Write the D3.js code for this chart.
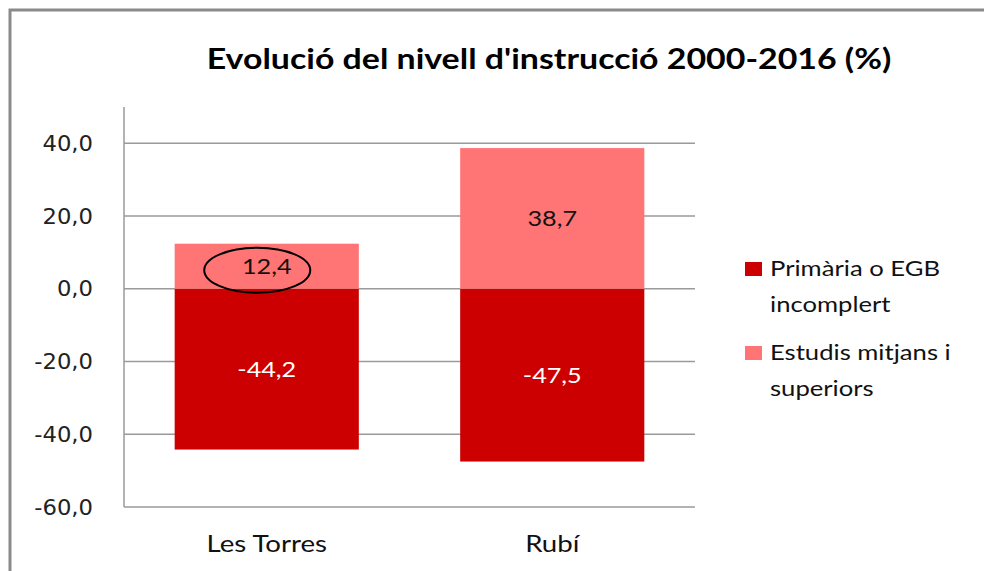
<!DOCTYPE html>
<html>
<head>
<meta charset="utf-8">
<script src="https://cdn.jsdelivr.net/npm/d3@7"></script>
<style>
  html, body { margin: 0; padding: 0; background: #fff; }
  svg { display: block; }
</style>
</head>
<body>
<svg id="chart" width="984" height="571"></svg>
<script>
// ---- data ----
const categories = ["Les Torres", "Rubí"];
const seriesNames = [["Primària o EGB", "incomplert"], ["Estudis mitjans i", "superiors"]];
const primaria = [-44.2, -47.5];
const estudis = [12.4, 38.7];
const yTicks = [-60, -40, -20, 0, 20, 40];
const titleText = "Evolució del nivell d'instrucció 2000-2016 (%)";
const seriesColors = ["#CC0000", "#FF7575"];
const highlightIndex = 0; // circled label (Les Torres, estudis)

// ---- setup ----
const svg = d3.select("#chart");
const W = 984, H = 571;
const plot = { left: 124, right: 695, top: 107, bottom: 507 };
const STRETCH = 1.2; // horizontal stretch of the reference text
const fmt = v => d3.format(".1f")(v).replace(".", ",").replace("\u2212", "-");

function stretch(sel, k) {
  sel.each(function () {
    const len = this.getComputedTextLength();
    d3.select(this).attr("textLength", len * (k || STRETCH)).attr("lengthAdjust", "spacingAndGlyphs");
  });
}

const y = d3.scaleLinear().domain([-60, 50]).range([plot.bottom, plot.top]);
const x = d3.scaleBand().domain(categories).range([plot.left, plot.right])
  .paddingInner(0.355).paddingOuter(0.1775);

// outer frame (left and top edges)
svg.append("path")
  .attr("d", `M10,${H} L10,10 L${W},10`)
  .attr("fill", "none").attr("stroke", "#8a8a8a").attr("stroke-width", 3);

// title
svg.append("text")
  .attr("x", 549).attr("y", 69)
  .attr("text-anchor", "middle")
  .attr("font-family", "Lato, 'Open Sans', sans-serif")
  .attr("font-weight", "bold").attr("font-size", 28)
  .attr("fill", "#000")
  .text(titleText)
  .call(stretch, 1.21);

// gridlines
svg.append("g").selectAll("line").data(yTicks).join("line")
  .attr("x1", plot.left).attr("x2", plot.right)
  .attr("y1", d => y(d)).attr("y2", d => y(d))
  .attr("stroke", "#9a9a9a").attr("stroke-width", 1.5);

// y axis line
svg.append("line")
  .attr("x1", plot.left).attr("x2", plot.left)
  .attr("y1", plot.top).attr("y2", plot.bottom)
  .attr("stroke", "#9a9a9a").attr("stroke-width", 1.5);

// y tick labels
svg.append("g").selectAll("text").data(yTicks).join("text")
  .attr("x", 93).attr("y", d => y(d))
  .attr("dy", "0.36em")
  .attr("text-anchor", "end")
  .attr("font-family", "'DejaVu Sans', sans-serif")
  .attr("font-size", 21)
  .attr("fill", "#222")
  .text(d => fmt(d))
  .call(stretch, 1.08);

// bars
const series = [primaria, estudis];
series.forEach((vals, si) => {
  svg.append("g").selectAll("rect").data(vals).join("rect")
    .attr("x", (d, i) => x(categories[i]))
    .attr("width", x.bandwidth())
    .attr("y", d => y(Math.max(0, d)))
    .attr("height", d => Math.abs(y(d) - y(0)))
    .attr("fill", seriesColors[si]);
});

// data labels
series.forEach((vals, si) => {
  svg.append("g").selectAll("text").data(vals).join("text")
    .attr("x", (d, i) => x(categories[i]) + x.bandwidth() / 2)
    .attr("y", d => (y(d) + y(0)) / 2)
    .attr("dy", "0.36em")
    .attr("text-anchor", "middle")
    .attr("font-family", "Lato, 'Open Sans', sans-serif")
    .attr("font-size", 21)
    .attr("fill", si === 0 ? "#fff" : "#111")
    .text(d => fmt(d))
    .call(stretch);
});

// annotation ellipse around the highlighted label
svg.append("ellipse")
  .attr("cx", x(categories[highlightIndex]) + x.bandwidth() / 2 - 9.5)
  .attr("cy", (y(estudis[highlightIndex]) + y(0)) / 2 + 4)
  .attr("rx", 53).attr("ry", 22.5)
  .attr("fill", "none").attr("stroke", "#000").attr("stroke-width", 2);

// category labels
svg.append("g").selectAll("text").data(categories).join("text")
  .attr("x", d => x(d) + x.bandwidth() / 2)
  .attr("y", 552)
  .attr("text-anchor", "middle")
  .attr("font-family", "Lato, 'Open Sans', sans-serif")
  .attr("font-size", 23)
  .attr("fill", "#111")
  .text(d => d)
  .call(stretch);

// legend
const legend = svg.append("g");
const legendTops = [262, 346];
seriesNames.forEach((lines, si) => {
  const g = legend.append("g");
  g.append("rect")
    .attr("x", 745).attr("y", legendTops[si])
    .attr("width", 17).attr("height", 14)
    .attr("fill", seriesColors[si]);
  g.selectAll("text").data(lines).join("text")
    .attr("x", 770)
    .attr("y", (d, i) => legendTops[si] + 14 + i * 35.5)
    .attr("font-family", "Lato, 'Open Sans', sans-serif")
    .attr("font-size", 21)
    .attr("fill", "#111")
    .text(d => d)
    .call(stretch, 1.22);
});
</script>
</body>
</html>
